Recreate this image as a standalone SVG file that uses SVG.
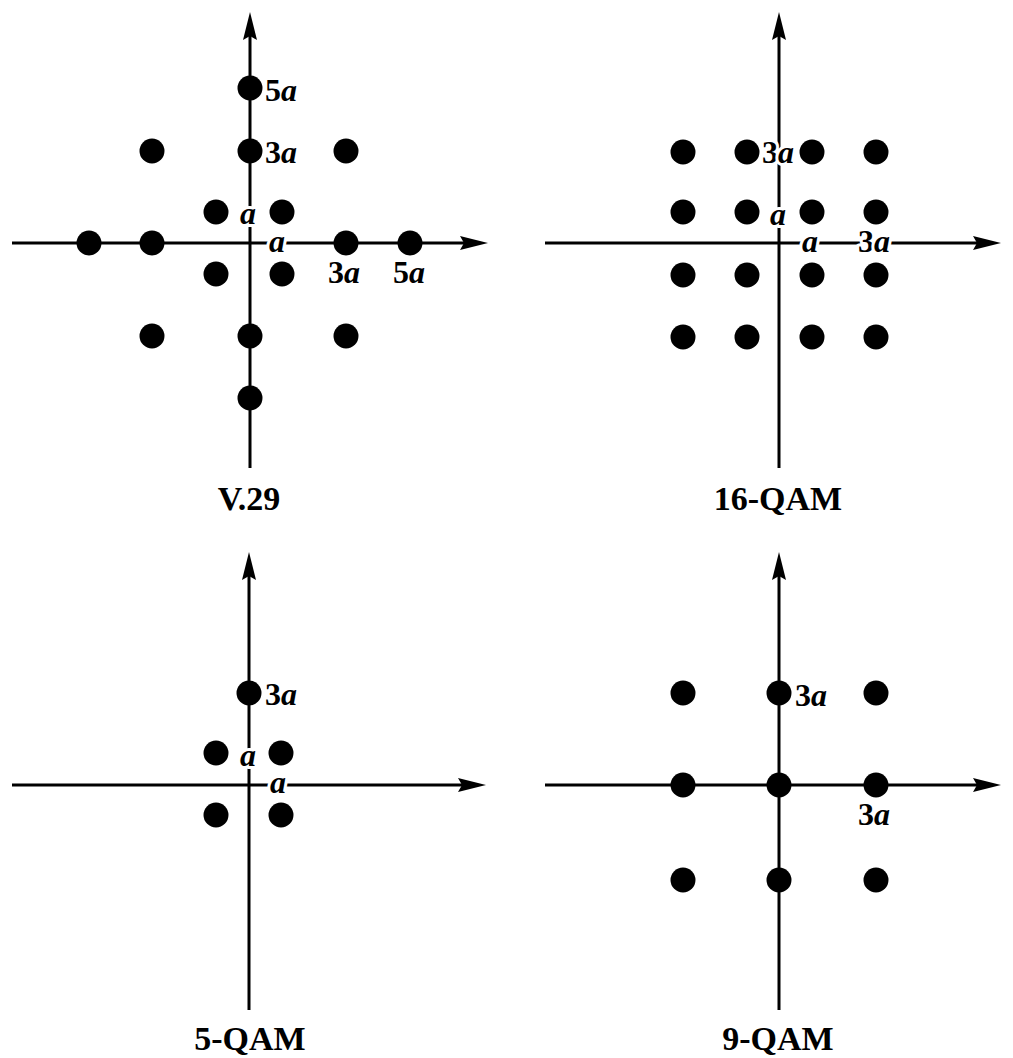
<svg xmlns="http://www.w3.org/2000/svg" width="1013" height="1058" viewBox="0 0 1013 1058">
<style>
.ax{stroke:#000;stroke-width:3;fill:none;marker-end:url(#ah)}
.pt{fill:#000}
.lb{font-family:"Liberation Serif","Times New Roman",serif;font-size:32px;font-weight:bold;fill:#000}
.lb .i{font-style:italic}
.ov{stroke:#fff;stroke-width:6;paint-order:stroke;stroke-linejoin:round}
.tt{font-family:"Liberation Serif","Times New Roman",serif;font-size:34px;font-weight:bold;fill:#000;text-anchor:middle}
</style>
<defs>
<marker id="ah" markerUnits="userSpaceOnUse" markerWidth="28" markerHeight="14" viewBox="0 0 28 14" refX="7" refY="7" orient="auto">
<path d="M0,0 L28,7 L0,14 L4,7 z" fill="#000"/>
</marker>
</defs>
<rect width="1013" height="1058" fill="#fff"/>
<g id="connectors">
<line class="ax" x1="250" y1="468" x2="250" y2="33"/>
<line class="ax" x1="12" y1="243" x2="467" y2="243"/>
<line class="ax" x1="779" y1="468" x2="779" y2="33"/>
<line class="ax" x1="545" y1="243" x2="980" y2="243"/>
<line class="ax" x1="249" y1="1010" x2="249" y2="573"/>
<line class="ax" x1="12" y1="785" x2="465" y2="785"/>
<line class="ax" x1="779" y1="1010" x2="779" y2="573"/>
<line class="ax" x1="545" y1="785" x2="980" y2="785"/>
</g>
<g id="v29">
<circle class="pt" cx="250" cy="88" r="12.5"/>
<circle class="pt" cx="250" cy="151" r="12.5"/>
<circle class="pt" cx="152" cy="151" r="12.5"/>
<circle class="pt" cx="346" cy="151" r="12.5"/>
<circle class="pt" cx="216" cy="212" r="12.5"/>
<circle class="pt" cx="282" cy="212" r="12.5"/>
<circle class="pt" cx="89" cy="243" r="12.5"/>
<circle class="pt" cx="152" cy="243" r="12.5"/>
<circle class="pt" cx="346" cy="243" r="12.5"/>
<circle class="pt" cx="410" cy="243" r="12.5"/>
<circle class="pt" cx="216" cy="274" r="12.5"/>
<circle class="pt" cx="282" cy="274" r="12.5"/>
<circle class="pt" cx="152" cy="336" r="12.5"/>
<circle class="pt" cx="250" cy="336" r="12.5"/>
<circle class="pt" cx="346" cy="336" r="12.5"/>
<circle class="pt" cx="250" cy="398" r="12.5"/>
<text class="lb" x="265" y="101">5<tspan class="i">a</tspan></text>
<text class="lb" x="265" y="163">3<tspan class="i">a</tspan></text>
<text class="lb ov" x="240" y="224"><tspan class="i">a</tspan></text>
<text class="lb ov" x="269" y="252"><tspan class="i">a</tspan></text>
<text class="lb" x="328" y="283">3<tspan class="i">a</tspan></text>
<text class="lb" x="393" y="283">5<tspan class="i">a</tspan></text>
<text class="tt" x="249" y="510">V.29</text>
</g>
<g id="qam16">
<circle class="pt" cx="683" cy="152" r="12.5"/>
<circle class="pt" cx="747" cy="152" r="12.5"/>
<circle class="pt" cx="812" cy="152" r="12.5"/>
<circle class="pt" cx="876" cy="152" r="12.5"/>
<circle class="pt" cx="683" cy="212" r="12.5"/>
<circle class="pt" cx="747" cy="212" r="12.5"/>
<circle class="pt" cx="812" cy="212" r="12.5"/>
<circle class="pt" cx="876" cy="212" r="12.5"/>
<circle class="pt" cx="683" cy="275" r="12.5"/>
<circle class="pt" cx="747" cy="275" r="12.5"/>
<circle class="pt" cx="812" cy="275" r="12.5"/>
<circle class="pt" cx="876" cy="275" r="12.5"/>
<circle class="pt" cx="683" cy="337" r="12.5"/>
<circle class="pt" cx="747" cy="337" r="12.5"/>
<circle class="pt" cx="812" cy="337" r="12.5"/>
<circle class="pt" cx="876" cy="337" r="12.5"/>
<text class="lb ov" x="762" y="163">3<tspan class="i">a</tspan></text>
<text class="lb ov" x="770" y="225"><tspan class="i">a</tspan></text>
<text class="lb ov" x="802" y="252"><tspan class="i">a</tspan></text>
<text class="lb ov" x="858" y="252">3<tspan class="i">a</tspan></text>
<text class="tt" x="778" y="510">16-QAM</text>
</g>
<g id="qam5">
<circle class="pt" cx="249" cy="693" r="12.5"/>
<circle class="pt" cx="216" cy="753" r="12.5"/>
<circle class="pt" cx="281" cy="753" r="12.5"/>
<circle class="pt" cx="216" cy="815" r="12.5"/>
<circle class="pt" cx="281" cy="815" r="12.5"/>
<text class="lb" x="265" y="705">3<tspan class="i">a</tspan></text>
<text class="lb ov" x="240" y="766"><tspan class="i">a</tspan></text>
<text class="lb ov" x="270" y="793"><tspan class="i">a</tspan></text>
<text class="tt" x="250" y="1050">5-QAM</text>
</g>
<g id="qam9">
<circle class="pt" cx="683" cy="693" r="12.5"/>
<circle class="pt" cx="779" cy="693" r="12.5"/>
<circle class="pt" cx="876" cy="693" r="12.5"/>
<circle class="pt" cx="683" cy="785" r="12.5"/>
<circle class="pt" cx="779" cy="785" r="12.5"/>
<circle class="pt" cx="876" cy="785" r="12.5"/>
<circle class="pt" cx="683" cy="880" r="12.5"/>
<circle class="pt" cx="779" cy="880" r="12.5"/>
<circle class="pt" cx="876" cy="880" r="12.5"/>
<text class="lb" x="795" y="706">3<tspan class="i">a</tspan></text>
<text class="lb" x="858" y="825">3<tspan class="i">a</tspan></text>
<text class="tt" x="778" y="1050">9-QAM</text>
</g>
</svg>
